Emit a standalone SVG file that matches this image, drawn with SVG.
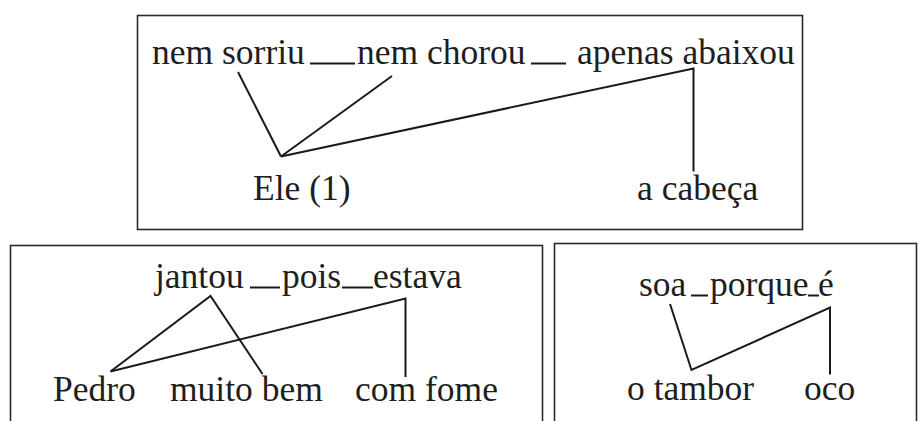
<svg xmlns="http://www.w3.org/2000/svg" width="919" height="421" viewBox="0 0 919 421">
<style>
.box{fill:none;stroke:#2a2a2a;stroke-width:1.6}
.t{font-family:"Liberation Serif","Times New Roman",serif;font-size:35.5px;fill:#1e1e1e}
.c line,.c polyline{stroke:#1a1a1a;stroke-width:2;fill:none}
</style>
<rect width="919" height="421" fill="#fff"/>
<g id="box1"><rect class="box" x="137.5" y="15.5" width="665" height="214"/></g>
<g id="box2"><rect class="box" x="10.5" y="245.5" width="532" height="190"/></g>
<g id="box3"><rect class="box" x="554.5" y="243.5" width="362" height="190"/></g>
<g id="n-nem-sorriu"><text class="t" x="152" y="64">nem sorriu</text></g>
<g id="n-nem-chorou"><text class="t" x="357" y="64">nem chorou</text></g>
<g id="n-apenas-abaixou"><text class="t" x="577" y="64">apenas abaixou</text></g>
<g id="n-ele"><text class="t" x="253" y="200">Ele (1)</text></g>
<g id="n-a-cabeca"><text class="t" x="637" y="200">a cabeça</text></g>
<g id="n-jantou"><text class="t" x="155" y="288">jantou</text></g>
<g id="n-pois"><text class="t" x="282" y="288">pois</text></g>
<g id="n-estava"><text class="t" x="373" y="288">estava</text></g>
<g id="n-pedro"><text class="t" x="53" y="401">Pedro</text></g>
<g id="n-muito-bem"><text class="t" x="170" y="401">muito bem</text></g>
<g id="n-com-fome"><text class="t" x="355" y="401">com fome</text></g>
<g id="n-soa"><text class="t" x="639" y="296">soa</text></g>
<g id="n-porque"><text class="t" x="710" y="296">porque</text></g>
<g id="n-e"><text class="t" x="818" y="296">é</text></g>
<g id="n-o-tambor"><text class="t" x="627" y="400">o tambor</text></g>
<g id="n-oco"><text class="t" x="804" y="400">oco</text></g>
<g id="connectors" class="c">
<line x1="310" y1="63.5" x2="355" y2="63.5"/>
<line x1="531" y1="63.5" x2="566" y2="63.5"/>
<line x1="238" y1="72" x2="281" y2="156.5"/>
<line x1="392" y1="76" x2="281" y2="156.5"/>
<polyline points="281,156.5 693.5,68.5 693.5,171.5"/>
<line x1="250" y1="287.5" x2="280" y2="287.5"/>
<line x1="342" y1="287.5" x2="373" y2="287.5"/>
<polyline points="110.5,371.5 210.5,296 262.5,374"/>
<polyline points="110.5,371.5 405.5,298.5 405.5,377"/>
<line x1="691" y1="295.5" x2="708" y2="295.5"/>
<line x1="808" y1="295.5" x2="819" y2="295.5"/>
<polyline points="670,304 691.5,370 830,307.5 830,374.5"/>
</g>
</svg>
